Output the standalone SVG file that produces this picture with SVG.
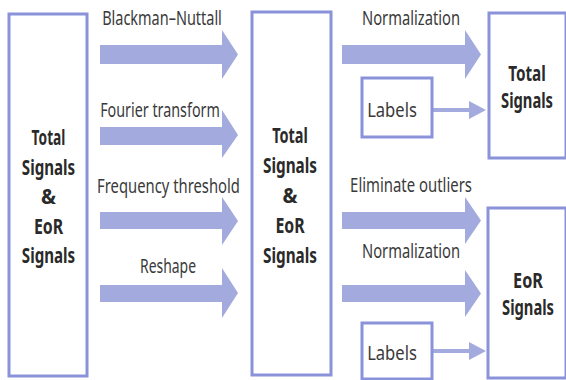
<svg xmlns="http://www.w3.org/2000/svg" width="566" height="380" viewBox="0 0 566 380">
<style>
.box{fill:#ffffff;stroke:#8a92da;stroke-width:3}
.arr{fill:#a3abde}
.lbl{font-family:"Noto Sans","Open Sans",sans-serif;font-size:20px;fill:#3a3a3a;text-anchor:middle}
.bld{font-family:"Noto Sans","Open Sans",sans-serif;font-size:21px;font-weight:bold;fill:#2a2a2a;text-anchor:middle}
</style>
<rect width="566" height="380" fill="#ffffff"/>
<g id="connectors">
<polygon class="arr" points="100,45 222,45 222,30 238,54.5 222,79 222,64 100,64"/>
<polygon class="arr" points="100,127 222,127 222,110 238,135 222,158 222,145 100,145"/>
<polygon class="arr" points="100,212 222,212 222,197 238,221 222,245 222,229 100,229"/>
<polygon class="arr" points="100,285 222,285 222,268 238,293 222,318 222,302 100,302"/>
<polygon class="arr" points="342,45 465,45 465,30 481,54.5 465,79 465,64 342,64"/>
<polygon class="arr" points="342,212 465,212 465,197 481,220.5 465,244 465,229 342,229"/>
<polygon class="arr" points="342,285 465,285 465,270 481,293.5 465,317 465,302 342,302"/>
<polygon class="arr" points="432,108 469,108 469,101 486,110 469,119 469,112 432,112"/>
<polygon class="arr" points="432,349 469,349 469,342 486,351 469,360 469,353 432,353"/>
<text class="lbl" transform="translate(162,25) scale(0.7,1)" textLength="171" lengthAdjust="spacingAndGlyphs">Blackman–Nuttall</text>
<text class="lbl" transform="translate(160,117) scale(0.7,1)" textLength="171" lengthAdjust="spacingAndGlyphs">Fourier transform</text>
<text class="lbl" transform="translate(168.5,193) scale(0.7,1)" textLength="204" lengthAdjust="spacingAndGlyphs">Frequency threshold</text>
<text class="lbl" transform="translate(168,273) scale(0.7,1)" textLength="80" lengthAdjust="spacingAndGlyphs">Reshape</text>
<text class="lbl" transform="translate(411,25) scale(0.7,1)" textLength="140" lengthAdjust="spacingAndGlyphs">Normalization</text>
<text class="lbl" transform="translate(411,192) scale(0.7,1)" textLength="174" lengthAdjust="spacingAndGlyphs">Eliminate outliers</text>
<text class="lbl" transform="translate(411,258) scale(0.7,1)" textLength="140" lengthAdjust="spacingAndGlyphs">Normalization</text>
</g>
<g id="input">
<rect class="box" x="9" y="14" width="78" height="362"/>
<text class="bld" transform="translate(48.5,145) scale(0.65,1)" textLength="52" lengthAdjust="spacingAndGlyphs">Total</text>
<text class="bld" transform="translate(48.5,174.5) scale(0.65,1)" textLength="82" lengthAdjust="spacingAndGlyphs">Signals</text>
<text class="bld" transform="translate(48.5,204) scale(0.65,1)" textLength="23" lengthAdjust="spacingAndGlyphs">&amp;</text>
<text class="bld" transform="translate(48.5,233.5) scale(0.65,1)" textLength="45" lengthAdjust="spacingAndGlyphs">EoR</text>
<text class="bld" transform="translate(48.5,263) scale(0.65,1)" textLength="82" lengthAdjust="spacingAndGlyphs">Signals</text>
</g>
<g id="middle">
<rect class="box" x="252" y="12" width="79" height="363"/>
<text class="bld" transform="translate(290,143) scale(0.65,1)" textLength="55" lengthAdjust="spacingAndGlyphs">Total</text>
<text class="bld" transform="translate(290,173) scale(0.65,1)" textLength="83" lengthAdjust="spacingAndGlyphs">Signals</text>
<text class="bld" transform="translate(290,203) scale(0.65,1)" textLength="23" lengthAdjust="spacingAndGlyphs">&amp;</text>
<text class="bld" transform="translate(290,233) scale(0.65,1)" textLength="45" lengthAdjust="spacingAndGlyphs">EoR</text>
<text class="bld" transform="translate(290,262.5) scale(0.65,1)" textLength="83" lengthAdjust="spacingAndGlyphs">Signals</text>
</g>
<g id="labels-top">
<rect class="box" x="362" y="78" width="70" height="59"/>
<text class="lbl" transform="translate(392,117) scale(0.7,1)" textLength="71" lengthAdjust="spacingAndGlyphs">Labels</text>
</g>
<g id="labels-bottom">
<rect class="box" x="362" y="323" width="70" height="56"/>
<text class="lbl" transform="translate(392,360) scale(0.7,1)" textLength="71" lengthAdjust="spacingAndGlyphs">Labels</text>
</g>
<g id="total-out">
<rect class="box" x="489" y="13" width="77" height="145"/>
<text class="bld" transform="translate(527,81) scale(0.65,1)" textLength="58" lengthAdjust="spacingAndGlyphs">Total</text>
<text class="bld" transform="translate(527,108) scale(0.65,1)" textLength="80" lengthAdjust="spacingAndGlyphs">Signals</text>
</g>
<g id="eor-out">
<rect class="box" x="488" y="208" width="78" height="170"/>
<text class="bld" transform="translate(528,288) scale(0.65,1)" textLength="46" lengthAdjust="spacingAndGlyphs">EoR</text>
<text class="bld" transform="translate(528,315) scale(0.65,1)" textLength="80" lengthAdjust="spacingAndGlyphs">Signals</text>
</g>
</svg>
